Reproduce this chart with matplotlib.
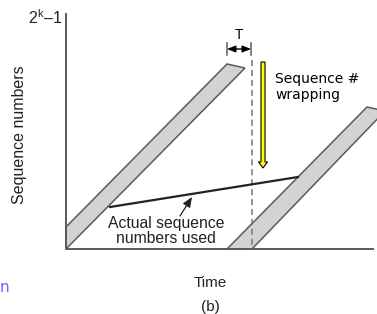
import matplotlib
matplotlib.use("Agg")
from matplotlib import pyplot as plt
from matplotlib.patches import Polygon

plt.rcParams['mathtext.fontset'] = 'custom'
plt.rcParams['mathtext.rm'] = 'Liberation Sans'
plt.rcParams['mathtext.it'] = 'Liberation Sans'

# diagram geometry in pixel units (origin top-left)
axis_x = [66, 66, 374]
axis_y = [13, 249, 249]
band1_x = [66, 66, 227, 245]
band1_y = [249, 227, 64, 68]
band2_x = [227, 367, 385, 252]
band2_y = [249, 107, 111, 249]
used_x = [110, 298]
used_y = [207, 177]
wrap_x = 252
t_left, t_right = 227, 251

ARIAL = 'Liberation Sans'
GRAY = '#5a5a5a'

fig = plt.figure(figsize=(3.77, 3.14), dpi=100)
ax = fig.add_axes([0, 0, 1, 1])
ax.set_xlim(0, 377)
ax.set_ylim(314, 0)
ax.axis('off')

# bands
for bx, by in [(band1_x, band1_y), (band2_x, band2_y)]:
    ax.add_patch(Polygon(list(zip(bx, by)), closed=True, fc='#d3d3d3',
                         ec=GRAY, lw=1.1))

# axes
ax.plot(axis_x, axis_y, color=GRAY, lw=1.4, solid_capstyle='butt')

# dashed wrap line
ax.plot([wrap_x, wrap_x], [60, 249], color='#777777', lw=1.1, ls=(0, (4, 2.5)))

# T marker
for tx in [t_left, t_right]:
    ax.plot([tx, tx], [43, 55], color=GRAY, lw=1.1)
ax.annotate('', xy=(t_left, 49), xytext=(t_right, 49),
            arrowprops=dict(arrowstyle='<|-|>,head_length=0.5,head_width=0.2',
                            color='black', lw=1, shrinkA=0, shrinkB=0))
ax.text(239, 35, 'T', fontsize=10, family=ARIAL, ha='center', va='center')

# actual sequence numbers line
ax.plot(used_x, used_y, color='#222222', lw=1.6)
ax.annotate('', xy=(192, 197), xytext=(180, 216),
            arrowprops=dict(arrowstyle='-|>,head_length=0.6,head_width=0.25',
                            color='#222222', lw=0.9, shrinkA=0, shrinkB=0))
ax.text(166, 231, 'Actual sequence\nnumbers used', fontsize=11.3, family=ARIAL,
        ha='center', va='center', linespacing=1.0, color='#222222')

# yellow wrap arrow
ax.arrow(263, 62, 0, 106, width=4, head_width=9, head_length=6,
         length_includes_head=True, fc='#ffff00', ec='black', lw=0.8)
ax.text(275, 87, 'Sequence #\nwrapping', fontsize=10, family='DejaVu Sans',
        ha='left', va='center', linespacing=1.1)

# labels
ax.text(20, 135, 'Sequence numbers', fontsize=11.5, family=ARIAL,
        rotation=90, ha='center', va='center', color='#222222')
ax.text(62, 18, r'$\mathrm{2^k}$–1', fontsize=11.5, family=ARIAL,
        ha='right', va='center', color='#222222')
ax.text(210, 283, 'Time', fontsize=11, family=ARIAL, ha='center',
        va='center', color='#222222')
ax.text(210, 307, '(b)', fontsize=11, family=ARIAL, ha='center',
        va='center', color='#222222')
ax.text(0, 287, 'n', fontsize=11, family='DejaVu Sans', ha='left',
        va='center', color='#4a4aff', alpha=0.85)

fig.savefig('out.png', dpi=100)
